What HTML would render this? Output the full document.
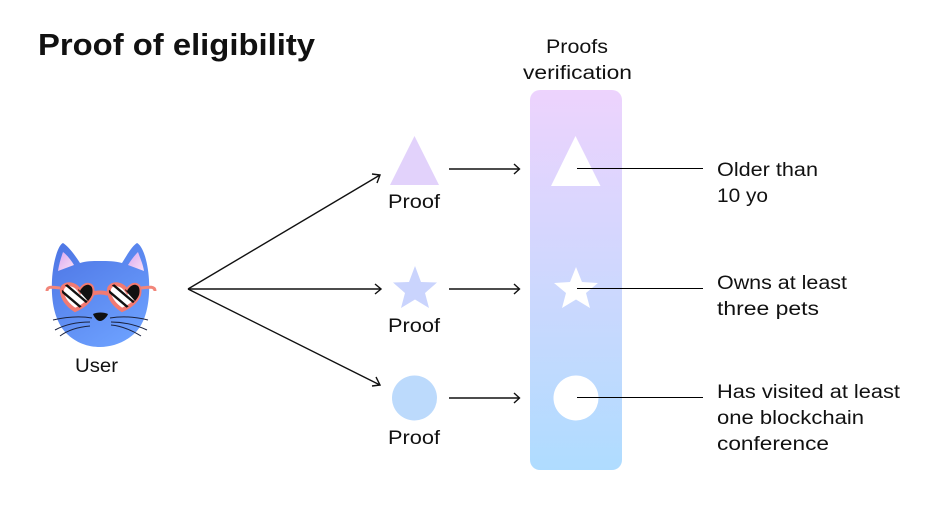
<!DOCTYPE html>
<html>
<head>
<meta charset="utf-8">
<style>
html,body{margin:0;padding:0;background:#fff;width:933px;height:514px;overflow:hidden}
svg{display:block}
text{font-family:"Liberation Sans",sans-serif;fill:#111}
</style>
</head>
<body>
<svg width="933" height="514" viewBox="0 0 933 514" xmlns="http://www.w3.org/2000/svg">
<defs>
<linearGradient id="bar" x1="0" y1="0" x2="0" y2="1">
<stop offset="0" stop-color="#edd3fd"/>
<stop offset="1" stop-color="#afdcff"/>
</linearGradient>
<linearGradient id="cat" x1="0.2" y1="0" x2="0.8" y2="1">
<stop offset="0" stop-color="#4f78e6"/>
<stop offset="1" stop-color="#6ea2ff"/>
</linearGradient>
<linearGradient id="ear" x1="0" y1="0" x2="1" y2="1">
<stop offset="0" stop-color="#d9a8f0"/>
<stop offset="1" stop-color="#fbe0f5"/>
</linearGradient>
<clipPath id="hl"><path d="M62 292C61 285 68 283 73 285C76 286 78 288 80 291C82 287 86 284 89 285C93 286 93 291 92 295C89 302 82 307 75 310C69 306 63 300 62 292Z"/></clipPath>
<clipPath id="hr"><path d="M109 292C108 285 115 283 120 285C123 286 125 288 127 291C129 287 133 284 136 285C140 286 140 291 139 295C136 302 129 307 122 310C116 306 110 300 109 292Z"/></clipPath>
</defs>

<text x="38" y="55" font-size="31" font-weight="700" textLength="277" lengthAdjust="spacingAndGlyphs">Proof of eligibility</text>

<!-- Cat -->
<path d="M63 243C58 245 53 262 52 280C51 300 54 320 66 333C76 343 88 347 100 347C113 347 126 342 136 332C147 320 150 300 149 280C148 262 143 246 137 243C132 246 127 255 122 263C115 261 108 261 100 261C92 261 86 261 80 263C75 255 68 246 63 243Z" fill="url(#cat)"/>
<path d="M63 252C61 258 59 264 58 271L74 265C71 260 67 255 63 252Z" fill="url(#ear)"/>
<path d="M138 252C140 258 143 264 144 271L128 265C131 260 135 255 138 252Z" fill="url(#ear)"/>
<!-- sunglasses -->
<path d="M47 291C47 286 52 287 60 288M155 291C155 286 149 287 141 288" fill="none" stroke="#f2867a" stroke-width="3"/>
<path d="M92 294C96 292 104 292 108 294" fill="none" stroke="#f27a72" stroke-width="4"/>
<g>
<path d="M62 292C61 285 68 283 73 285C76 286 78 288 80 291C82 287 86 284 89 285C93 286 93 291 92 295C89 302 82 307 75 310C69 306 63 300 62 292Z" fill="#fff" stroke="#f27a72" stroke-width="4"/>
<path d="M109 292C108 285 115 283 120 285C123 286 125 288 127 291C129 287 133 284 136 285C140 286 140 291 139 295C136 302 129 307 122 310C116 306 110 300 109 292Z" fill="#fff" stroke="#f27a72" stroke-width="4"/>
</g>
<g clip-path="url(#hl)">
<path d="M78 290L86 282L96 284L94 300L88 301Z" fill="#111"/>
<g stroke="#111" stroke-width="2.4" fill="none">
<path d="M64 283L90 305"/>
<path d="M58 288L84 310"/>
<path d="M56 296L78 315"/>
</g>
</g>
<g clip-path="url(#hr)">
<path d="M125 290L133 282L143 284L141 300L135 301Z" fill="#111"/>
<g stroke="#111" stroke-width="2.4" fill="none">
<path d="M111 283L137 305"/>
<path d="M105 288L131 310"/>
<path d="M103 296L125 315"/>
</g>
</g>
<path d="M93 314C97 312 104 312 108 314C107 317 103 321 100 321C97 321 94 317 93 314Z" fill="#111"/>
<g fill="none" stroke="#1b2340" stroke-width="1">
<path d="M53 320C66 317 80 316 92 318"/>
<path d="M55 330C66 324 78 322 90 322"/>
<path d="M60 336C68 330 78 327 90 326"/>
<path d="M110 318C122 316 136 317 148 320"/>
<path d="M111 322C124 322 136 325 147 330"/>
<path d="M111 325C122 326 133 331 141 336"/>
</g>
<text x="75" y="372" font-size="19" textLength="43" lengthAdjust="spacingAndGlyphs">User</text>

<!-- Arrows from user -->
<g fill="none" stroke="#111" stroke-width="1.4">
<path d="M188 289L380 175"/>
<path d="M372 174L380 175L377 183"/>
<path d="M188 289L380 289"/>
<path d="M375 284L381 289L375 294"/>
<path d="M188 289L380 385"/>
<path d="M376 377L380 385L372 386"/>
<path d="M449 169H519"/>
<path d="M514 164L519.500 169L514 174"/>
<path d="M449 289H519"/>
<path d="M514 284L519.500 289L514 294"/>
<path d="M449 398H519"/>
<path d="M514 393L519.500 398L514 403"/>
</g>

<!-- Proof shapes -->
<polygon points="414.500,136 439,185 390,185" fill="#e2d2fb"/>
<polygon points="415,266 421,282 437,282.500 425,293 429,308 415,299.500 401,308 405,293 393,282.500 409,282" fill="#cad4fd"/>
<circle cx="414.500" cy="398" r="22.500" fill="#bcdafc"/>
<text x="388" y="208" font-size="19" textLength="52" lengthAdjust="spacingAndGlyphs">Proof</text>
<text x="388" y="332" font-size="19" textLength="52" lengthAdjust="spacingAndGlyphs">Proof</text>
<text x="388" y="444" font-size="19" textLength="52" lengthAdjust="spacingAndGlyphs">Proof</text>

<!-- Verification bar -->
<rect x="530" y="90" width="92" height="380" rx="10" fill="url(#bar)"/>
<text x="546" y="53" font-size="19" textLength="62" lengthAdjust="spacingAndGlyphs">Proofs</text>
<text x="523" y="79" font-size="19" textLength="109" lengthAdjust="spacingAndGlyphs">verification</text>
<polygon points="575.500,136 600.500,186 551,186" fill="#fff"/>
<polygon points="576,267 582,282 598,283 586,293 590,308 576,299.500 562,308 566,293 554,283 570,282" fill="#fff"/>
<circle cx="576" cy="398" r="22.500" fill="#fff"/>

<!-- Lines to labels -->
<g stroke="#000" stroke-width="1">
<path d="M577 168.500H703"/>
<path d="M577 288.500H703"/>
<path d="M577 397.500H703"/>
</g>

<text x="717" y="176" font-size="19" textLength="101" lengthAdjust="spacingAndGlyphs">Older than</text>
<text x="717" y="202" font-size="19" textLength="51" lengthAdjust="spacingAndGlyphs">10 yo</text>
<text x="717" y="289" font-size="19" textLength="130" lengthAdjust="spacingAndGlyphs">Owns at least</text>
<text x="717" y="315" font-size="19" textLength="102" lengthAdjust="spacingAndGlyphs">three pets</text>
<text x="717" y="398" font-size="19" textLength="183" lengthAdjust="spacingAndGlyphs">Has visited at least</text>
<text x="717" y="424" font-size="19" textLength="147" lengthAdjust="spacingAndGlyphs">one blockchain</text>
<text x="717" y="450" font-size="19" textLength="112" lengthAdjust="spacingAndGlyphs">conference</text>
</svg>
</body>
</html>
